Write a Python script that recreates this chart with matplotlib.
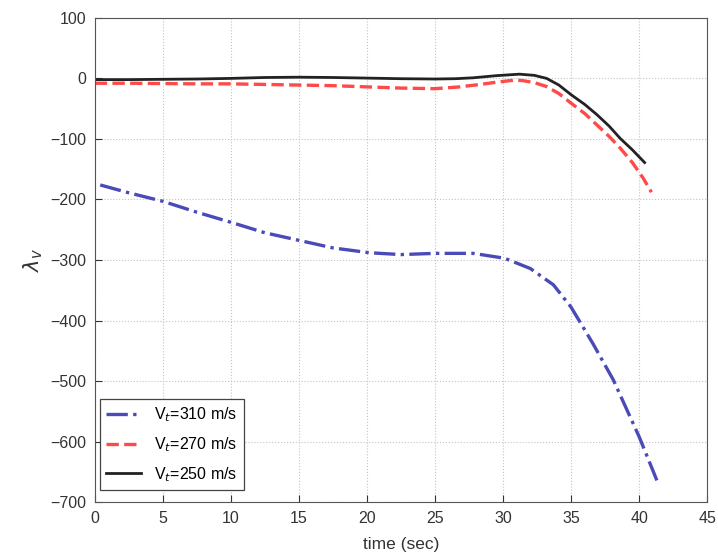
import matplotlib
matplotlib.use("Agg")
import matplotlib.pyplot as plt

# values
t_310 = [0.4, 2.5, 5.0, 7.5, 10.2, 12.5, 15.1, 17.5, 20.2, 22.5, 25.0, 27.8, 30.1,
         32.0, 33.7, 35.0, 36.6, 38.1, 40.0, 41.3]
lam_310 = [-176, -189, -203, -221, -239, -255, -268, -280, -288, -291, -289, -289, -297,
           -314, -341, -378, -438, -498, -592, -664]

t_270 = [0.0, 2.5, 5.0, 7.5, 10.0, 12.5, 15.0, 17.5, 20.0, 22.5, 25.0, 26.8, 28.3,
         29.6, 30.8, 31.4, 32.3, 33.2, 34.1, 35.0, 36.0, 36.9, 37.8, 38.6, 39.5, 40.3, 40.9]
lam_270 = [-8, -8, -8.5, -9, -9, -10, -11, -12, -14, -16, -17, -14, -10,
           -6, -3, -3.5, -7, -13.5, -25, -41, -58, -77, -96, -115, -139, -165, -188]

t_250 = [0.0, 2.5, 5.0, 7.5, 10.0, 12.5, 15.0, 17.5, 20.0, 22.5, 25.0, 26.5, 27.8,
         29.5, 31.2, 32.3, 33.2, 34.1, 35.0, 36.0, 36.9, 37.8, 38.6, 39.5, 40.4]
lam_250 = [-2, -2, -1.5, -1, 0, 1.5, 2, 1.5, 0.5, -0.5, -1, -0.5, 1,
           4.5, 7, 5, 0, -11, -27, -43, -60, -79, -99, -118, -139]

labels = ['V$_t$=310 m/s', 'V$_t$=270 m/s', 'V$_t$=250 m/s']

plt.rcParams['font.family'] = ['Liberation Sans', 'DejaVu Sans']

fig = plt.figure(figsize=(7.18, 5.58), dpi=100)
ax = fig.add_axes([0.132, 0.100, 0.853, 0.868])

ax.plot(t_310, lam_310, color='#4a4ab8', linestyle='-.', linewidth=2.4, label=labels[0])
ax.plot(t_270, lam_270, color='#ff4a4a', linestyle='--', linewidth=2.4, label=labels[1])
ax.plot(t_250, lam_250, color='#222222', linestyle='-', linewidth=2.0, label=labels[2])

ax.set_xlim(0, 45)
ax.set_ylim(-700, 100)
ax.set_xticks(range(0, 46, 5))
ax.set_yticks(range(-700, 101, 100))
ax.tick_params(direction='in', labelsize=11.5, colors='#333333', length=5, pad=6)
ax.grid(True, linestyle=':', color='#c4c4c4', linewidth=0.8)
for sp in ax.spines.values():
    sp.set_color('#555555')

ax.set_xlabel('time (sec)', fontsize=12.5, color='#333333', labelpad=8)
ax.set_ylabel(r'$\lambda_v$', fontsize=15, color='#333333', labelpad=4)

leg = ax.legend(loc='lower left', bbox_to_anchor=(0.008, 0.025), fontsize=11.5,
                fancybox=False, framealpha=1, edgecolor='#444444',
                handlelength=2.2, borderaxespad=0, labelspacing=0.7)
leg.get_frame().set_linewidth(0.9)

fig.savefig('out.png', dpi=100)
